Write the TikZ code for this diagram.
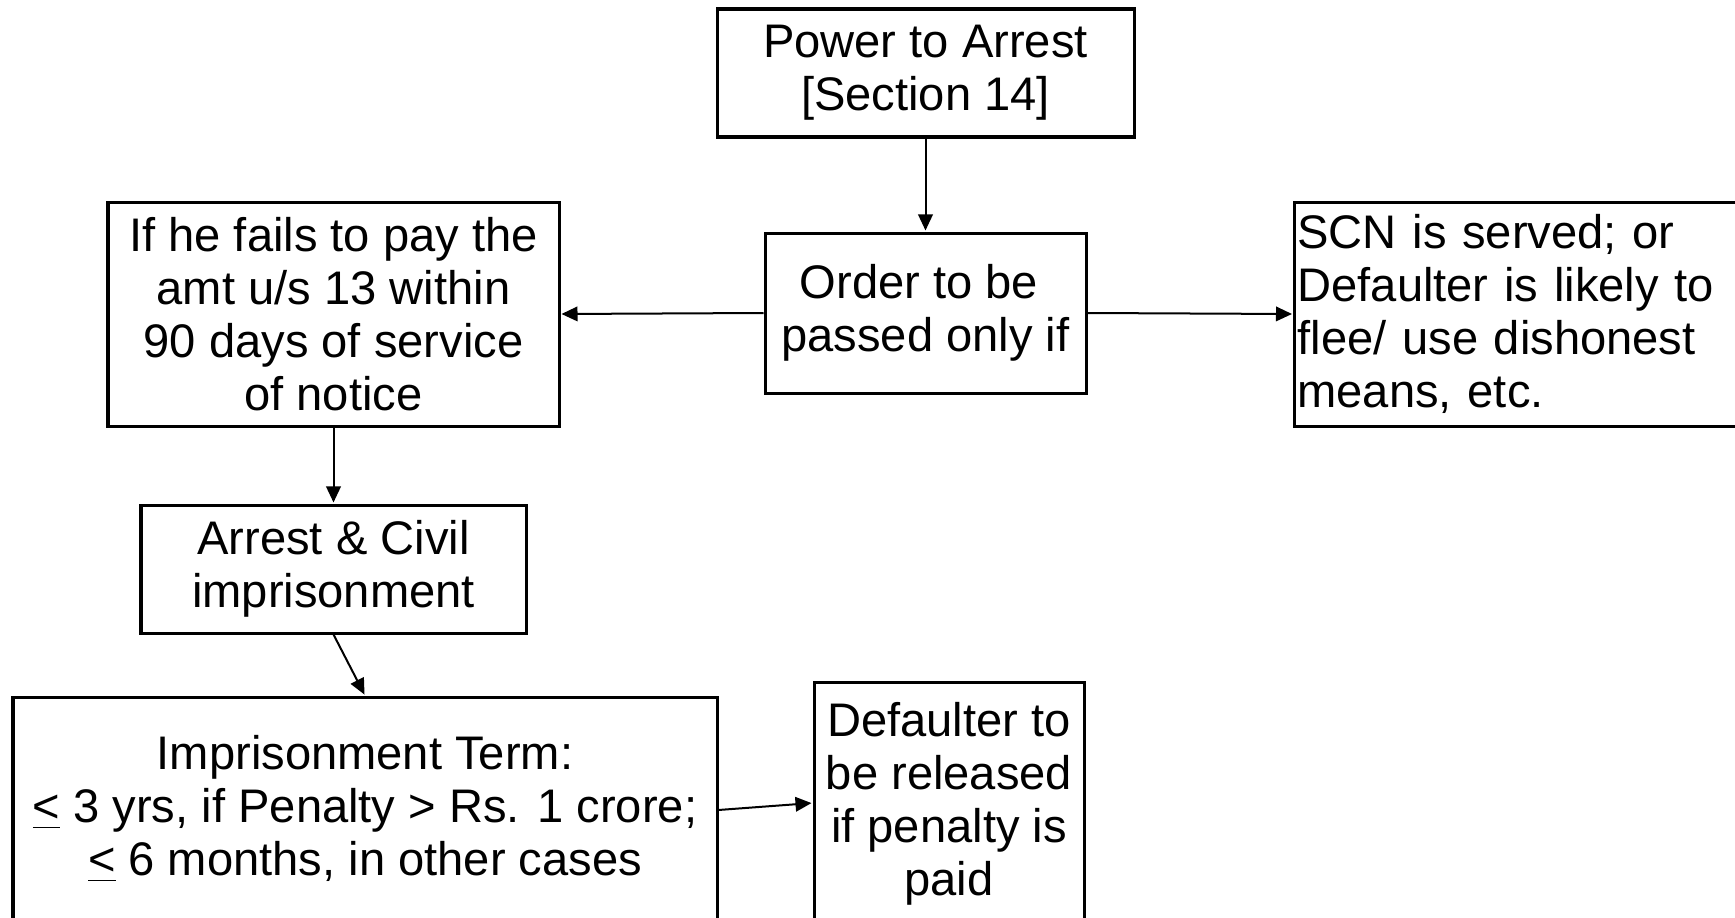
\documentclass[tikz,border=0pt]{standalone}
\usepackage{fontspec}
\setmainfont{Liberation Sans}
\usetikzlibrary{arrows.meta,calc}
\tikzset{
  box/.style={draw=black, line width=0.03cm, fill=white, align=center, inner sep=0pt,
    font=\fontsize{13.4pt}{15.1pt}\selectfont},
  conn/.style={draw=black, line width=0.02cm, -{Triangle[length=0.16cm,width=0.145cm]}, shorten >=0.01cm},
}
\begin{document}
\begin{tikzpicture}[x=0.01cm,y=-0.01cm]
\useasboundingbox (0,0) rectangle (1735,918);
\clip (0,0) rectangle (1735,918);
\fill[white] (0,0) rectangle (1735,918);
\node[box, minimum width=417*0.01cm, minimum height=128*0.01cm] (power) at (925.5,73) {Power to Arrest\\{[Section 14]}};
\node[box, minimum width=321*0.01cm, minimum height=160*0.01cm] (order) at (925.5,313) {Order to be\hspace*{0.13cm}\\passed only if};
\node[box, minimum width=451*0.01cm, minimum height=224*0.01cm] (fail) at (333.5,314) {If he fails to pay the\\amt u/s 13 within\\90 days of service\\of notice};
\node[box, anchor=west, align=left, text width=4.8cm, minimum height=224*0.01cm] (scn) at (1293,314) {\hspace*{0.03cm}SCN is served; or\\\hspace*{0.03cm}Defaulter is likely to\\\hspace*{0.03cm}flee/ use dishonest\\\hspace*{0.03cm}means, etc.};
\node[box, minimum width=385*0.01cm, minimum height=128*0.01cm] (arrest) at (333.5,569) {Arrest \& Civil\\imprisonment};
\node[box, minimum width=704*0.01cm, minimum height=224*0.01cm] (term) at (365,809) {Imprisonment Term:\\\underline{<} 3 yrs, if Penalty > Rs. 1 crore;\\\underline{<} 6 months, in other cases};
\node[box, minimum width=270*0.01cm, minimum height=244*0.01cm] (rel) at (949,804) {Defaulter to\\be released\\if penalty is\\paid};
\draw[conn] (power.south) -- (order.north);
\draw[conn] (order.west) -- (fail.east);
\draw[conn] (order.east) -- (scn.west);
\draw[conn] (fail.south) -- (arrest.north);
\draw[conn] (arrest.south) -- (term.north);
\coordinate (relin) at ($(rel.west)+(0,-1)$);
\draw[conn] ($(term.east)+(0,1)$) -- (relin);
\end{tikzpicture}
\end{document}
